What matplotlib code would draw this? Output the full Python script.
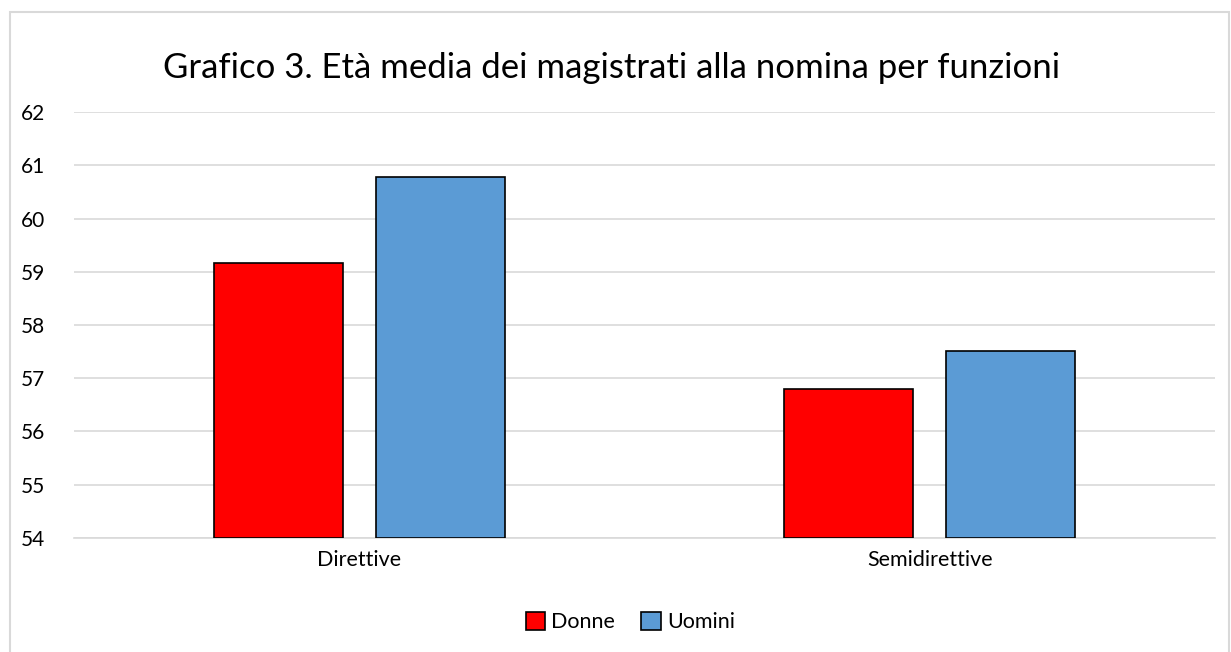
import numpy as np
import matplotlib.pyplot as plt
from matplotlib.patches import Rectangle

categories = ['Direttive', 'Semidirettive']
donne = [59.16, 56.79]
uomini = [60.78, 57.51]

plt.rcParams['font.family'] = ['Lato', 'DejaVu Sans']

fig = plt.figure(figsize=(12.31, 6.52), dpi=100)
ax = fig.add_axes([0.0601, 0.175, 0.927, 0.653])

x = np.arange(len(categories))
w = 0.226
off = 0.142
ax.bar(x - off, np.array(donne) - 54, w, bottom=54, color='#ff0000', edgecolor='black', linewidth=1.2, label='Donne', zorder=3)
ax.bar(x + off, np.array(uomini) - 54, w, bottom=54, color='#5b9bd5', edgecolor='black', linewidth=1.2, label='Uomini', zorder=3)

ax.set_xlim(-0.5, 1.5)
ax.set_ylim(54, 62)
ax.set_yticks(range(54, 63))
ax.set_xticks(x)
ax.set_xticklabels(categories, fontsize=15.5)
ax.tick_params(axis='y', labelsize=15, length=0, pad=21)
ax.tick_params(axis='x', length=0, pad=9)
ax.grid(axis='y', color='#d9d9d9', linewidth=1.2, zorder=0)
for s in ['top', 'right', 'left']:
    ax.spines[s].set_visible(False)
ax.spines['bottom'].set_color('#d9d9d9')
ax.spines['bottom'].set_linewidth(1.2)

fig.text(0.497, 0.895, 'Grafico 3. Età media dei magistrati alla nomina per funzioni',
         ha='center', va='center', fontsize=25)

fig.legend(loc='center', bbox_to_anchor=(0.512, 0.046), ncol=2, frameon=False,
           fontsize=15.5, handlelength=0.9, handleheight=0.9, handletextpad=0.3,
           columnspacing=1.2)

fig.patches.append(Rectangle((0.008, -0.01), 0.99, 0.992, transform=fig.transFigure,
                             fill=False, edgecolor='#d9d9d9', linewidth=1.5))

fig.savefig('out.png', dpi=100)
